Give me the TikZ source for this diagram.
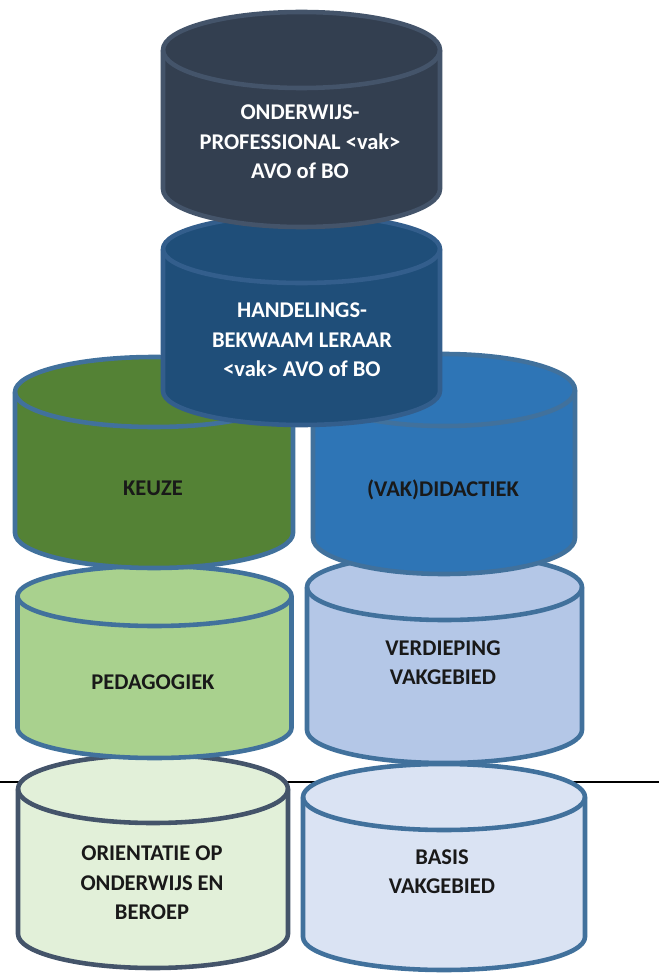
\documentclass[tikz,border=0pt]{standalone}
\usepackage{fontspec}
\setmainfont{Carlito}

\definecolor{navyfill}{HTML}{333F50}
\definecolor{navyline}{HTML}{44546A}
\definecolor{bluefill}{HTML}{1F4E79}
\definecolor{blueline}{HTML}{335E8C}
\definecolor{keuzefill}{HTML}{548235}
\definecolor{didafill}{HTML}{2E75B6}
\definecolor{pedafill}{HTML}{A9D18E}
\definecolor{verdfill}{HTML}{B4C7E7}
\definecolor{orifill}{HTML}{E2F0D9}
\definecolor{basisfill}{HTML}{DAE3F3}
\definecolor{tankline}{HTML}{41719C}

% cylinder: centre x, top centre y, bottom centre y, rx, ry, fill, draw (pixels, y down)
\newcommand{\tank}[7]{%
  \path[fill=#6, draw=#7, line width=2.6pt, line join=round]
    ({#1-#4},{-#2}) -- ({#1-#4},{-#3})
    arc[start angle=180, end angle=360, x radius={#4*0.02cm}, y radius={#5*0.02cm}]
    -- ({#1+#4},{-#2})
    arc[start angle=0, end angle=180, x radius={#4*0.02cm}, y radius={#5*0.02cm}] -- cycle;
  \draw[draw=#7, line width=2.6pt]
    ({#1-#4},{-#2}) arc[start angle=180, end angle=360, x radius={#4*0.02cm}, y radius={#5*0.02cm}];
}

\tikzset{
  tanktext/.style={align=center, font=\fontsize{12.8}{16.7}\selectfont\bfseries, text=black!90},
  lighttext/.style={tanktext, text=white}
}

\begin{document}
\begin{tikzpicture}[x=0.02cm, y=0.02cm]
\useasboundingbox (0,0) rectangle (659,-973);

% ground line
\coordinate (floorL) at (0,-782);
\coordinate (floorR) at (659,-782);
\draw[line width=1pt] (floorL) -- (floorR);

% bottom row
\tank{153}{789}{934}{135}{34}{orifill}{navyline}
\tank{444}{797}{937}{141}{33}{basisfill}{tankline}

% second row
\tank{154.5}{596}{728}{137}{30}{pedafill}{tankline}
\tank{444.5}{587}{730}{137.5}{33}{verdfill}{tankline}

% third row
\tank{154}{392}{533}{139}{35}{keuzefill}{tankline}
\tank{444}{390}{538}{131}{36}{didafill}{tankline}

% top stack
\tank{301.5}{249}{391}{138.5}{34}{bluefill}{blueline}
\tank{301.5}{50}{189}{138.5}{38}{navyfill}{navyline}

% texts
\node[tanktext] (ori) at (152,-883) {ORIENTATIE OP\\ONDERWIJS EN\\BEROEP};
\node[tanktext] (basis) at (442,-872) {BASIS\\VAKGEBIED};
\node[tanktext] (peda) at (153,-682) {PEDAGOGIEK};
\node[tanktext] (verd) at (443,-663) {VERDIEPING\\VAKGEBIED};
\node[tanktext] (keuze) at (153,-488) {KEUZE};
\node[tanktext] (dida) at (443,-490) {(VAK)DIDACTIEK};
\node[lighttext] (leraar) at (302,-340) {HANDELINGS-\\BEKWAAM LERAAR\\<vak> AVO of BO};
\node[lighttext] (prof) at (300,-142) {ONDERWIJS-\\PROFESSIONAL <vak>\\AVO of BO};
\end{tikzpicture}
\end{document}
